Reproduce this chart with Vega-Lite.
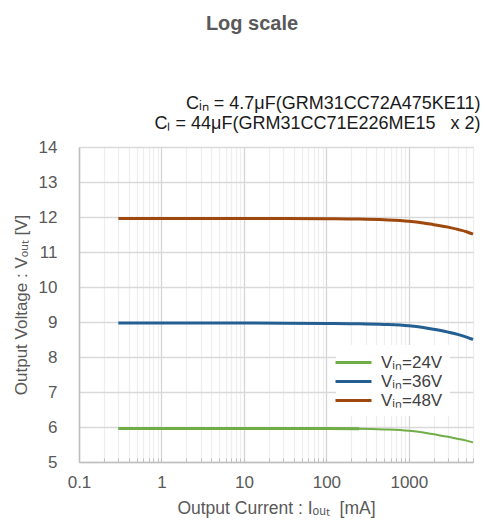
{
  "$schema": "https://vega.github.io/schema/vega-lite/v6.json",
  "width": 394,
  "height": 315,
  "autosize": {"type": "none"},
  "padding": {"left": 79, "top": 147, "right": 12, "bottom": 60},
  "background": "white",
  "config": {
    "font": "Liberation Sans",
    "view": {"stroke": null}
  },
  "title": {
    "text": "Log scale",
    "font": "Liberation Sans",
    "fontSize": 20,
    "fontWeight": "bold",
    "color": "#595959",
    "anchor": "middle",
    "frame": "group",
    "dx": -24,
    "offset": 60
  },
  "data": {
    "values": [
      {"series": "Vᵢₙ=24V", "current": 0.3, "voltage": 5.96},
      {"series": "Vᵢₙ=24V", "current": 1, "voltage": 5.96},
      {"series": "Vᵢₙ=24V", "current": 10, "voltage": 5.96},
      {"series": "Vᵢₙ=24V", "current": 100, "voltage": 5.955},
      {"series": "Vᵢₙ=24V", "current": 250, "voltage": 5.95},
      {"series": "Vᵢₙ=24V", "current": 500, "voltage": 5.93},
      {"series": "Vᵢₙ=24V", "current": 1000, "voltage": 5.89},
      {"series": "Vᵢₙ=24V", "current": 1500, "voltage": 5.84},
      {"series": "Vᵢₙ=24V", "current": 2000, "voltage": 5.79},
      {"series": "Vᵢₙ=24V", "current": 3000, "voltage": 5.72},
      {"series": "Vᵢₙ=24V", "current": 4000, "voltage": 5.66},
      {"series": "Vᵢₙ=24V", "current": 5000, "voltage": 5.61},
      {"series": "Vᵢₙ=24V", "current": 6000, "voltage": 5.56},
      {"series": "Vᵢₙ=36V", "current": 0.3, "voltage": 8.97},
      {"series": "Vᵢₙ=36V", "current": 1, "voltage": 8.97},
      {"series": "Vᵢₙ=36V", "current": 10, "voltage": 8.97},
      {"series": "Vᵢₙ=36V", "current": 100, "voltage": 8.96},
      {"series": "Vᵢₙ=36V", "current": 250, "voltage": 8.95},
      {"series": "Vᵢₙ=36V", "current": 500, "voltage": 8.93},
      {"series": "Vᵢₙ=36V", "current": 1000, "voltage": 8.89},
      {"series": "Vᵢₙ=36V", "current": 1500, "voltage": 8.84},
      {"series": "Vᵢₙ=36V", "current": 2000, "voltage": 8.79},
      {"series": "Vᵢₙ=36V", "current": 3000, "voltage": 8.71},
      {"series": "Vᵢₙ=36V", "current": 4000, "voltage": 8.64},
      {"series": "Vᵢₙ=36V", "current": 5000, "voltage": 8.57},
      {"series": "Vᵢₙ=36V", "current": 6000, "voltage": 8.5},
      {"series": "Vᵢₙ=48V", "current": 0.3, "voltage": 11.96},
      {"series": "Vᵢₙ=48V", "current": 1, "voltage": 11.96},
      {"series": "Vᵢₙ=48V", "current": 10, "voltage": 11.96},
      {"series": "Vᵢₙ=48V", "current": 100, "voltage": 11.95},
      {"series": "Vᵢₙ=48V", "current": 250, "voltage": 11.94},
      {"series": "Vᵢₙ=48V", "current": 500, "voltage": 11.92},
      {"series": "Vᵢₙ=48V", "current": 1000, "voltage": 11.88},
      {"series": "Vᵢₙ=48V", "current": 1500, "voltage": 11.83},
      {"series": "Vᵢₙ=48V", "current": 2000, "voltage": 11.78},
      {"series": "Vᵢₙ=48V", "current": 3000, "voltage": 11.71},
      {"series": "Vᵢₙ=48V", "current": 4000, "voltage": 11.64},
      {"series": "Vᵢₙ=48V", "current": 5000, "voltage": 11.58},
      {"series": "Vᵢₙ=48V", "current": 6000, "voltage": 11.51}
    ]
  },
  "layer": [
    {
      "mark": {"type": "line", "interpolate": "monotone", "strokeCap": "butt"},
      "encoding": {
        "x": {
          "field": "current",
          "type": "quantitative",
          "scale": {"type": "log", "domain": [0.1, 6000], "nice": false},
          "axis": {
            "orient": "bottom",
            "values": [0.1, 0.2, 0.3, 0.4, 0.5, 0.6, 0.7, 0.8, 0.9, 1, 2, 3, 4, 5, 6, 7, 8, 9, 10, 20, 30, 40, 50, 60, 70, 80, 90, 100, 200, 300, 400, 500, 600, 700, 800, 900, 1000, 2000, 3000, 4000, 5000, 6000],
            "tickCount": 100,
            "labelExpr": "indexof([0.1, 1, 10, 100, 1000], datum.value) >= 0 ? datum.label : ''",
            "format": "~g",
            "labelFontSize": 17,
            "labelColor": "#595959",
            "labelPadding": 16,
            "labelOverlap": false,
            "labelFlush": false,
            "grid": true,
            "gridColor": {"condition": {"test": "indexof([0.1, 1, 10, 100, 1000], datum.value) >= 0", "value": "#d4d4d4"}, "value": "#eeeeee"},
            "gridWidth": 1.3,
            "ticks": true,
            "tickSize": -4,
            "tickColor": "#bfbfbf",
            "tickWidth": 1,
            "domainColor": "#bfbfbf",
            "domainWidth": 1.5,
            "title": "Output Current : Iₒᵤₜ\u00a0\u00a0[mA]",
            "titleFontSize": 17.5,
            "titleFontWeight": "normal",
            "titleColor": "#595959",
            "titlePadding": 9
          }
        },
        "y": {
          "field": "voltage",
          "type": "quantitative",
          "scale": {"domain": [5, 14], "nice": false, "zero": false},
          "axis": {
            "values": [5, 6, 7, 8, 9, 10, 11, 12, 13, 14],
            "tickCount": 20,
            "format": "d",
            "labelOverlap": false,
            "labelFontSize": 17,
            "labelColor": "#595959",
            "labelPadding": 22,
            "grid": true,
            "gridColor": "#d9d9d9",
            "gridWidth": 1.3,
            "ticks": false,
            "domainColor": "#bfbfbf",
            "domainWidth": 1.5,
            "title": "Output Voltage : Vₒᵤₜ [V]",
            "titleFontSize": 17,
            "titleFontWeight": "normal",
            "titleColor": "#595959",
            "titlePadding": 8
          }
        },
        "color": {
          "field": "series",
          "type": "nominal",
          "scale": {"domain": ["Vᵢₙ=24V", "Vᵢₙ=36V", "Vᵢₙ=48V"], "range": ["#70AD47", "#255E91", "#9E480E"]},
          "legend": {
            "title": null,
            "orient": "none",
            "legendX": 257,
            "legendY": 198,
            "fillColor": "white",
            "padding": 7,
            "symbolType": "M-2,0H2",
            "symbolSize": 324,
            "symbolStrokeWidth": 3,
            "labelFontSize": 17,
            "labelColor": "#404040",
            "labelOffset": 17,
            "rowPadding": -1.5
          }
        },
        "strokeWidth": {
          "condition": {"test": "datum.series == 'Vᵢₙ=24V'", "value": 2},
          "value": 3
        }
      }
    },
    {
      "transform": [{"filter": "datum.series == 'Vᵢₙ=24V' && datum.current <= 250"}],
      "mark": {"type": "line", "strokeWidth": 3, "color": "#70AD47", "strokeCap": "butt"},
      "encoding": {
        "x": {
          "field": "current",
          "type": "quantitative",
          "axis": {
            "orient": "top",
            "labels": false,
            "ticks": false,
            "domain": false,
            "grid": false,
            "title": ["Cᵢₙ = 4.7μF(GRM31CC72A475KE11)", "Cₗ = 44μF(GRM31CC71E226ME15\u00a0\u00a0\u00a0x 2)"],
            "titleFontSize": 18,
            "titleFontWeight": "normal",
            "titleColor": "#1a1a1a",
            "titleAlign": "right",
            "titleAnchor": "end",
            "titleX": 401,
            "titleY": -39,
            "titleBaseline": "alphabetic",
            "titleLineHeight": 20
          }
        },
        "y": {"field": "voltage", "type": "quantitative"}
      }
    }
  ],
  "resolve": {"axis": {"x": "independent"}}
}
